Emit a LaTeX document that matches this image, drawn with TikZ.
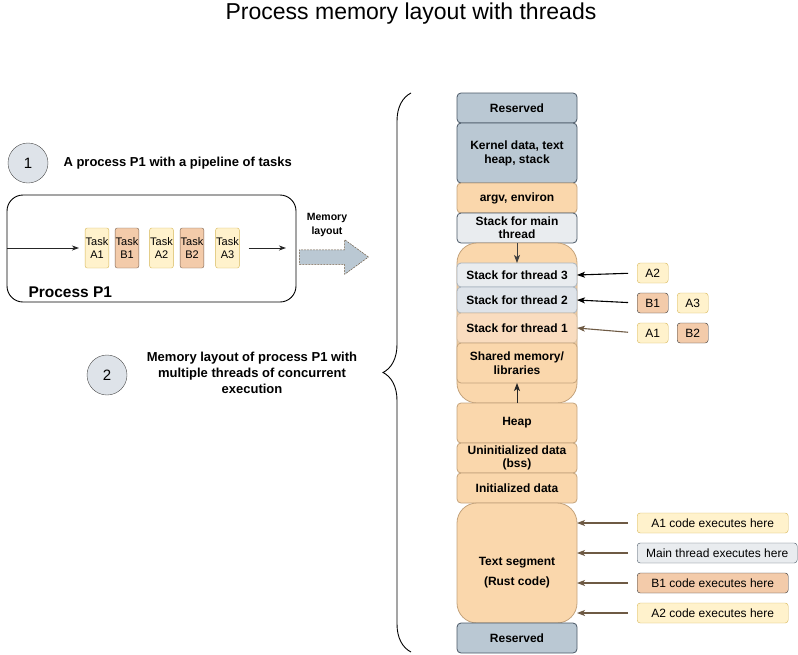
\documentclass[tikz,border=0pt]{standalone}
\usepackage{fontspec}
\setmainfont{Liberation Sans}
\usetikzlibrary{arrows.meta, positioning, shapes.arrows, decorations.pathreplacing}
\definecolor{SegOrange}{HTML}{FAD7AC}
\definecolor{SegOrangeLine}{HTML}{C4A37C}
\definecolor{SegPeach}{HTML}{F9DCBF}
\definecolor{SegBlue}{HTML}{BAC8D3}
\definecolor{SegBlueLine}{HTML}{4A5866}
\definecolor{SegGray}{HTML}{E9ECEF}
\definecolor{SegSlate}{HTML}{DEE3E9}
\definecolor{SegSlateLine}{HTML}{A9B4BF}
\definecolor{TaskA}{HTML}{FFF2CC}
\definecolor{TaskALine}{HTML}{D6B656}
\definecolor{TaskB}{HTML}{F3CBAA}
\definecolor{TaskBLine}{HTML}{7A6250}
\definecolor{PtrBrown}{HTML}{6E5A44}
\tikzset{
  seg/.style={rounded corners=4pt, align=center, minimum width=120pt, outer sep=0pt,
    inner sep=1pt, font=\bfseries\fontsize{12}{14}\selectfont, line width=0.8pt},
  segblue/.style={seg, draw=SegBlueLine, fill=SegBlue},
  segorange/.style={seg, draw=SegOrangeLine, fill=SegOrange},
  seggray/.style={seg, draw=SegBlueLine, fill=SegGray},
  segslate/.style={seg, draw=SegSlateLine, fill=SegSlate},
  segpeach/.style={seg, draw=SegOrangeLine!70, fill=SegPeach},
  taska/.style={draw=TaskALine, fill=TaskA, rounded corners=2pt, align=center,
    minimum height=40pt, inner xsep=0.5pt, font=\fontsize{11}{13}\selectfont},
  taskb/.style={taska, draw=TaskBLine, fill=TaskB},
  tag/.style={draw=TaskALine, fill=TaskA, rounded corners=3pt, minimum height=20pt,
    minimum width=31pt, inner sep=1pt, font=\fontsize{12}{14}\selectfont},
  tagb/.style={tag, draw=black!80, fill=TaskB},
  tagg/.style={tag, draw=SegBlueLine, fill=SegGray},
  step num/.style={circle, draw=black!70, fill=SegSlate, minimum size=40pt,
    inner sep=0pt, font=\fontsize{15}{17}\selectfont},
  note/.style={align=center, font=\bfseries\fontsize{13}{16}\selectfont},
  ptr/.style={-{Stealth[length=8pt, width=6pt, inset=2pt]}, line width=1.1pt},
  ptrb/.style={ptr, draw=PtrBrown},
  pipe/.style={-{Stealth[length=7pt, width=5pt, inset=2pt]}, line width=0.9pt},
}
\begin{document}
\begin{tikzpicture}[x=1pt, y=-1pt]
  \useasboundingbox (0,0) rectangle (798,654);
  \node[font=\fontsize{23}{27}\selectfont] (title) at (411,14) {Process memory layout with threads};

  % step 1: the process and its tasks
  \node[step num] (one) at (28,163) {1};
  \node[note, anchor=west] (onetxt) at (60,163) {A process P1 with a pipeline of tasks};
  \node[draw, line width=0.9pt, rounded corners=16pt, minimum width=289pt,
    minimum height=107pt] (proc) at (151.5,248.5) {};
  \node[anchor=west, font=\bfseries\fontsize{15.5}{18}\selectfont] (proclbl) at (25,292) {Process P1};
  \node[taska] (ta1) at (97,248) {Task\\A1};
  \node[taskb] (tb1) at (127,248) {Task\\B1};
  \node[taska] (ta2) at (161.5,248) {Task\\A2};
  \node[taskb] (tb2) at (192,248) {Task\\B2};
  \node[taska] (ta3) at (227.5,248) {Task\\A3};
  \coordinate (pout) at (286,248);
  \draw[pipe, draw=black!85] (proc.west |- ta1) -- ([xshift=-6pt]ta1.west);
  \draw[pipe, draw=black!85] ([xshift=9pt]ta3.east) -- (pout);

  % memory layout arrow
  \node[font=\bfseries\fontsize{10.5}{14}\selectfont, align=center] (mlbl) at (327,225) {Memory\\layout};
  \node[single arrow, draw=PtrBrown, line width=0.5pt, dash pattern=on 2pt off 1pt,
    fill=SegBlue, minimum height=69pt, minimum width=34pt, inner sep=0pt, inner ysep=7pt,
    single arrow head extend=10pt, single arrow tip angle=72] (marrow) at (329,257) {};

  % step 2
  \node[step num] (two) at (107,375) {2};
  \node[note] (twotxt) at (252,373) {Memory layout of process P1 with\\multiple threads of concurrent\\execution};

  \coordinate (brbot) at (411,652);
  \coordinate (brtop) at (411,93);
  \draw[line width=0.9pt, decorate, decoration={brace, amplitude=28pt, aspect=0.5}] (brbot) -- (brtop);

  % memory column
  \node[segblue, minimum height=30pt] (res1) at (517,108) {Reserved};
  \node[segblue, minimum height=60pt, below=0pt of res1] (kern) {Kernel data, text\\heap, stack};
  \node[segorange, minimum height=30pt, below=0pt of kern] (argv) {argv, environ};
  \node[seggray, minimum height=30pt, below=0pt of argv, font=\bfseries\fontsize{12}{13}\selectfont] (mainst) {Stack for main\\thread};
  \node[segorange, rounded corners=20pt, minimum height=160pt, below=0pt of mainst] (stk) {};
  \node[seggray, draw=SegSlateLine, minimum height=24pt, below=20pt of stk.north] (st3) {Stack for thread 3};
  \node[segslate, minimum height=26pt, below=0pt of st3] (st2) {Stack for thread 2};
  \node[segpeach, minimum height=30pt, below=0pt of st2] (st1) {Stack for thread 1};
  \node[segorange, minimum height=40pt, below=0pt of st1, font=\bfseries\fontsize{12}{14}\selectfont] (shared) {Shared memory/\\libraries};
  \node[segorange, minimum height=40pt, below=0pt of stk] (heap) {Heap};
  \node[segorange, minimum height=30pt, below=0pt of heap, font=\bfseries\fontsize{12}{13}\selectfont] (bss) {Uninitialized data\\(bss)};
  \node[segorange, minimum height=30pt, below=0pt of bss] (init) {Initialized data};
  \node[segorange, rounded corners=20pt, minimum height=120pt, below=0pt of init] (text) {};
  \node[align=center, font=\bfseries\fontsize{12}{20}\selectfont] (textlbl)
    at ([yshift=-10pt]text.center) {Text segment\\(Rust code)};
  \node[segblue, minimum height=30pt, below=0pt of text] (res2) {Reserved};
  \draw[ptr, draw=black!75, line width=1pt] (mainst) -- (st3);
  \draw[ptr, draw=black!85, line width=1pt] (heap) -- (shared);

  % threads and their tasks
  \node[tag, anchor=west] (ra2) at (637,273) {A2};
  \node[tagb, anchor=west] (rb1) at (637,303) {B1};
  \node[tag, anchor=west] (ra3) at (677,303) {A3};
  \node[tag, anchor=west] (ra1) at (637,333) {A1};
  \node[tagb, anchor=west] (rb2) at (677,333) {B2};
  \draw[ptr, shorten <=9pt] (ra2.west) -- (st3.east);
  \draw[ptr, shorten <=9pt] (rb1.west) -- (st2.east);
  \draw[ptrb, shorten <=9pt] (ra1.west) -- (st1.east);

  % where the code runs
  \node[tag, anchor=west, minimum width=151pt] (ca1) at (637,523) {A1 code executes here};
  \node[tagg, anchor=west, minimum width=160pt] (cmain) at (637,553) {Main thread executes here};
  \node[tagb, anchor=west, minimum width=151pt] (cb1) at (637,583) {B1 code executes here};
  \node[tag, anchor=west, minimum width=151pt] (ca2) at (637,613) {A2 code executes here};
  \foreach \c in {ca1, cmain, cb1, ca2}
    \draw[ptrb, shorten <=9pt] (\c.west) -- (\c.west -| text.east);
\end{tikzpicture}
\end{document}
